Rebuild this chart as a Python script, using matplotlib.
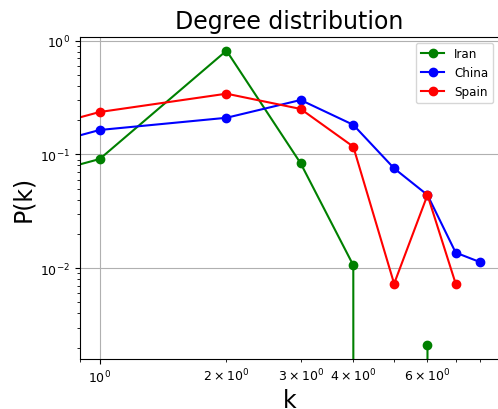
import matplotlib
matplotlib.use("Agg")
import matplotlib.pyplot as plt

# degree k and P(k) per country (k=0 has P=0, clipped on the log axes)
k_iran = [0, 1, 2, 3, 4, 5, 6]
p_iran = [0, 0.0911, 0.817, 0.0835, 0.0106, 0, 0.0021]

k_china = [0, 1, 2, 3, 4, 5, 6, 7, 8]
p_china = [0, 0.164, 0.210, 0.301, 0.182, 0.0754, 0.044, 0.0137, 0.0113]

k_spain = [0, 1, 2, 3, 4, 5, 6, 7]
p_spain = [0, 0.236, 0.342, 0.251, 0.117, 0.0073, 0.044, 0.0073]

W, H = 498, 410
fig = plt.figure(figsize=(W / 100, H / 100), dpi=100)
ax = fig.add_axes([80 / W, (H - 360) / H, (499 - 80) / W, (360 - 37.7) / H])

ax.plot(k_iran, p_iran, "o-", color="green", label="Iran")
ax.plot(k_china, p_china, "o-", color="blue", label="China")
ax.plot(k_spain, p_spain, "o-", color="red", label="Spain")

ax.set_xscale("log")
ax.set_yscale("log")
ax.set_xlim(0.898, 8.87)
ax.set_ylim(0.00159, 1.084)
ax.grid(True)
ax.tick_params(which="both", labelsize=9)

ax.set_title("Degree distribution", fontsize=17)
ax.set_xlabel("k", fontsize=17, labelpad=2)
ax.set_ylabel("P(k)", fontsize=17)
ax.legend(loc="upper right", fontsize=8.6)

fig.savefig("out.png", dpi=100, facecolor="white")
